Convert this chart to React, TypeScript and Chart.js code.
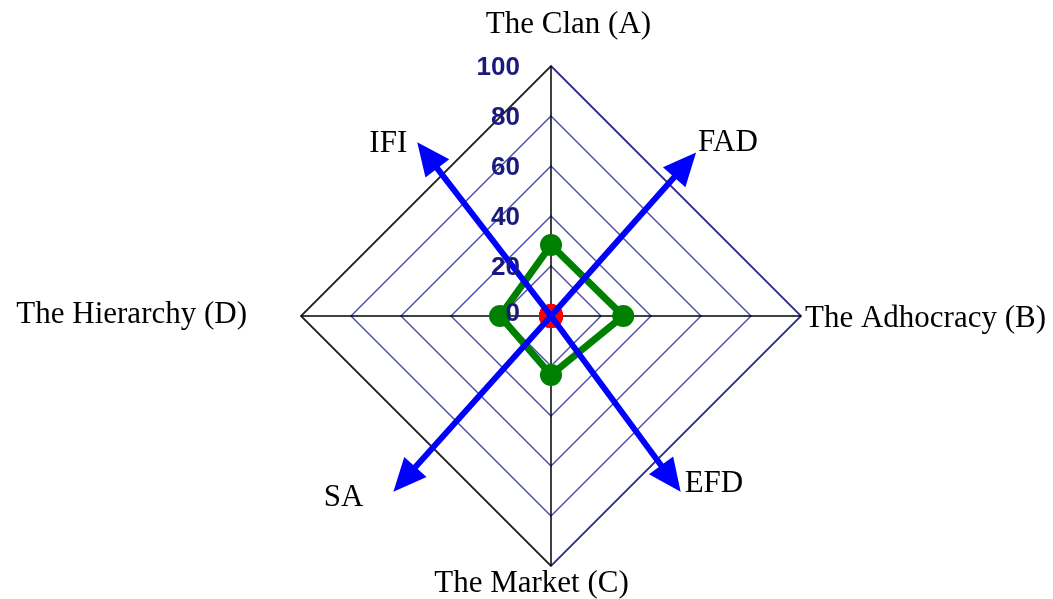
import React, { useEffect, useRef } from 'react';
import { Chart, registerables } from 'chart.js';

Chart.register(...registerables);

// ---- data ----
const categories = ['The Clan (A)', 'The Adhocracy (B)', 'The Market (C)', 'The Hierarchy (D)'];
const currentValues = [28.4, 28.9, 23.6, 20.4];
const originValues = [0, 0, 0, 0];
const tickValues = [0, 20, 40, 60, 80, 100];
const arrowLabels = ['FAD', 'EFD', 'SA', 'IFI'];
const arrowAngles = [41.6, 143.6, 221.9, 322.4]; // degrees, clockwise from "The Clan (A)" axis
const arrowLengths = [87.4, 87.4, 94.4, 87.7]; // in scale units (0-100)

// ---- style ----
const SERIF = "'Liberation Serif', 'Times New Roman', serif";
const SANS = "'Liberation Sans', Arial, sans-serif";
const categoryLabelStyle = [
  { dx: 17.5, dy: -33, align: 'center' },
  { dx: 4, dy: 11, align: 'left' },
  { dx: -19.5, dy: 26, align: 'center' },
  { dx: -54, dy: 7, align: 'right' },
];
const arrowLabelStyle = [
  { dx: 2, dy: -2, align: 'left' },
  { dx: 4, dy: 0, align: 'left' },
  { dx: -30, dy: 14, align: 'right' },
  { dx: -10, dy: 10, align: 'right' },
];

const overlayPlugin = {
  id: 'overlay',
  afterDatasetsDraw(chart: any) {
    const scale = chart.scales.r;
    const ctx = chart.ctx as CanvasRenderingContext2D;
    const xc = scale.xCenter;
    const yc = scale.yCenter;
    ctx.save();

    // arrows
    arrowLabels.forEach((label, i) => {
      const d = scale.getDistanceFromCenterForValue(arrowLengths[i]);
      const tip = scale.getPointPosition(0, d, (arrowAngles[i] * Math.PI) / 180);
      const ux = (tip.x - xc) / d;
      const uy = (tip.y - yc) / d;
      const L = 33;
      const hw = 15;
      const bx = tip.x - ux * L;
      const by = tip.y - uy * L;
      ctx.strokeStyle = '#0000ff';
      ctx.fillStyle = '#0000ff';
      ctx.lineWidth = 6;
      ctx.lineCap = 'butt';
      ctx.beginPath();
      ctx.moveTo(xc, yc);
      ctx.lineTo(bx + ux * 3, by + uy * 3);
      ctx.stroke();
      ctx.beginPath();
      ctx.moveTo(tip.x, tip.y);
      ctx.lineTo(bx - uy * hw, by + ux * hw);
      ctx.lineTo(bx + uy * hw, by - ux * hw);
      ctx.closePath();
      ctx.fill();

      const st = arrowLabelStyle[i];
      ctx.fillStyle = '#000000';
      ctx.font = `31px ${SERIF}`;
      ctx.textAlign = st.align as CanvasTextAlign;
      ctx.textBaseline = 'alphabetic';
      ctx.fillText(label, tip.x + st.dx, tip.y + st.dy);
    });

    // category labels
    categories.forEach((label, i) => {
      const p = scale.getPointPosition(i, scale.drawingArea);
      const st = categoryLabelStyle[i];
      ctx.fillStyle = '#000000';
      ctx.font = `31px ${SERIF}`;
      ctx.textAlign = st.align as CanvasTextAlign;
      ctx.textBaseline = 'alphabetic';
      ctx.fillText(label, p.x + st.dx, p.y + st.dy);
    });

    // tick labels
    ctx.font = `bold 26px ${SANS}`;
    ctx.fillStyle = '#1a1a7e';
    ctx.textAlign = 'right';
    ctx.textBaseline = 'middle';
    scale.ticks.forEach((t: any) => {
      const off = scale.getDistanceFromCenterForValue(t.value);
      ctx.fillText(String(t.value), xc - 31, yc - off + (t.value === 0 ? -2 : 2));
    });

    ctx.restore();
  },
};

export default function App() {
  const ref = useRef<HTMLCanvasElement | null>(null);

  useEffect(() => {
    if (!ref.current) return;
    const chart = new Chart(ref.current, {
      type: 'radar',
      data: {
        labels: categories,
        datasets: [
          {
            label: 'Origin',
            data: originValues,
            borderColor: '#ff0000',
            backgroundColor: '#ff0000',
            pointBackgroundColor: '#ff0000',
            pointBorderColor: '#ff0000',
            pointRadius: 12,
            pointBorderWidth: 0,
            borderWidth: 0,
            showLine: false,
            fill: false,
          },
          {
            label: 'Current',
            data: currentValues,
            borderColor: '#008000',
            backgroundColor: 'rgba(0,0,0,0)',
            pointBackgroundColor: '#008000',
            pointBorderColor: '#008000',
            pointRadius: 11,
            pointBorderWidth: 0,
            borderWidth: 7,
            fill: false,
            tension: 0,
          },
        ],
      },
      options: {
        animation: false,
        responsive: true,
        maintainAspectRatio: false,
        layout: { padding: { top: 66, bottom: 33, left: 49, right: 0 } },
        plugins: { legend: { display: false }, tooltip: { enabled: false } },
        scales: {
          r: {
            min: 0,
            max: 100,
            afterBuildTicks: (s: any) => {
              s.ticks = tickValues.map((v) => ({ value: v }));
            },
            ticks: { display: false, stepSize: 20 },
            pointLabels: { display: false },
            angleLines: { color: '#000000', lineWidth: 1.5 },
            grid: {
              color: (c: any) => {
                if (c.tick && c.tick.value === 100) {
                  const ch = c.chart;
                  const s = ch.scales.r;
                  if (!s) return '#222222';
                  const g = ch.ctx.createLinearGradient(s.xCenter - s.drawingArea, 0, s.xCenter + s.drawingArea, 0);
                  g.addColorStop(0, '#222222');
                  g.addColorStop(0.5, '#222222');
                  g.addColorStop(0.5, '#2e2e8e');
                  g.addColorStop(1, '#2e2e8e');
                  return g;
                }
                return '#4848a8';
              },
              lineWidth: (c: any) => (c.tick && c.tick.value === 100 ? 1.8 : 1.4),
            },
          },
        },
      },
      plugins: [overlayPlugin],
    });
    return () => chart.destroy();
  }, []);

  return (
    <div style={{ position: 'fixed', left: 0, top: 0, width: 1053, height: 599, background: '#ffffff' }}>
      <canvas ref={ref} />
    </div>
  );
}
